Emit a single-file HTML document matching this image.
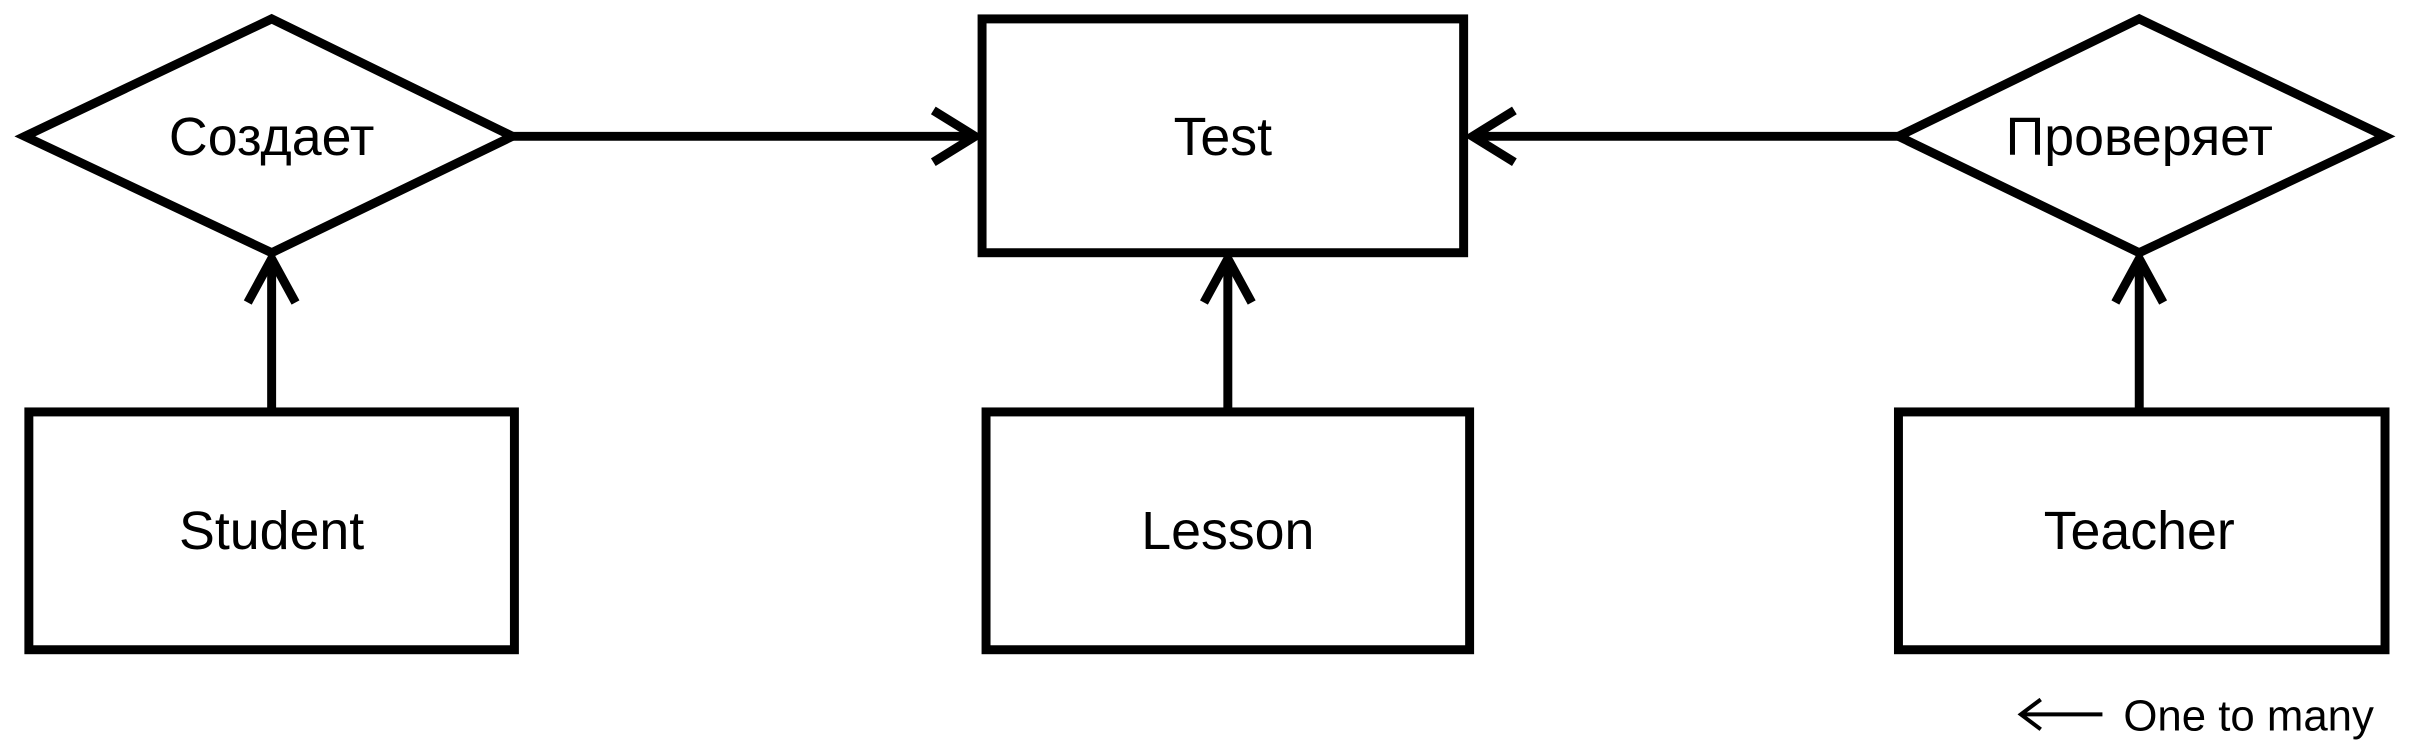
<!DOCTYPE html>
<html><head><meta charset="utf-8"><style>
html,body{margin:0;padding:0;background:#fff;}
svg{display:block;}
text{font-family:"Liberation Sans",sans-serif;fill:#000;}
</style></head><body>
<svg width="2420" height="752" viewBox="0 0 2420 752" xmlns="http://www.w3.org/2000/svg">
<g transform="scale(0.995)">
<g fill="none" stroke="#000" stroke-width="9" stroke-linejoin="miter">
  <polygon points="25,137 273,19 515,137 273,254"/>
  <rect x="987" y="19" width="484" height="235"/>
  <polygon points="1908,137 2150,19 2397,137 2150,254"/>
  <rect x="29" y="414" width="488" height="239"/>
  <rect x="991" y="414" width="486" height="239"/>
  <rect x="1908" y="414" width="489" height="239"/>
  <line x1="515" y1="137" x2="980" y2="137"/>
  <polyline points="938,111 980,137 938,163"/>
  <line x1="1908" y1="137" x2="1480" y2="137"/>
  <polyline points="1522,111 1480,137 1522,163"/>
  <line x1="273" y1="414" x2="273" y2="260"/>
  <polyline points="249,304 273,260 297,304"/>
  <line x1="1234" y1="414" x2="1234" y2="260"/>
  <polyline points="1210,304 1234,260 1258,304"/>
  <line x1="2150" y1="414" x2="2150" y2="260"/>
  <polyline points="2126,304 2150,260 2174,304"/>
</g>
<g fill="none" stroke="#000" stroke-width="4">
  <line x1="2031" y1="718" x2="2113" y2="718"/>
  <polyline points="2051,703 2031,718 2051,733"/>
</g>
<g font-size="54" text-anchor="middle">
  <text x="273" y="156">Создает</text>
  <text x="1229" y="156">Test</text>
  <text x="2150" y="156">Проверяет</text>
  <text x="273" y="552">Student</text>
  <text x="1234" y="552">Lesson</text>
  <text x="2150" y="552">Teacher</text>
</g>
<text x="2134" y="734" font-size="44">One to many</text>
</g>
</svg>
</body></html>
